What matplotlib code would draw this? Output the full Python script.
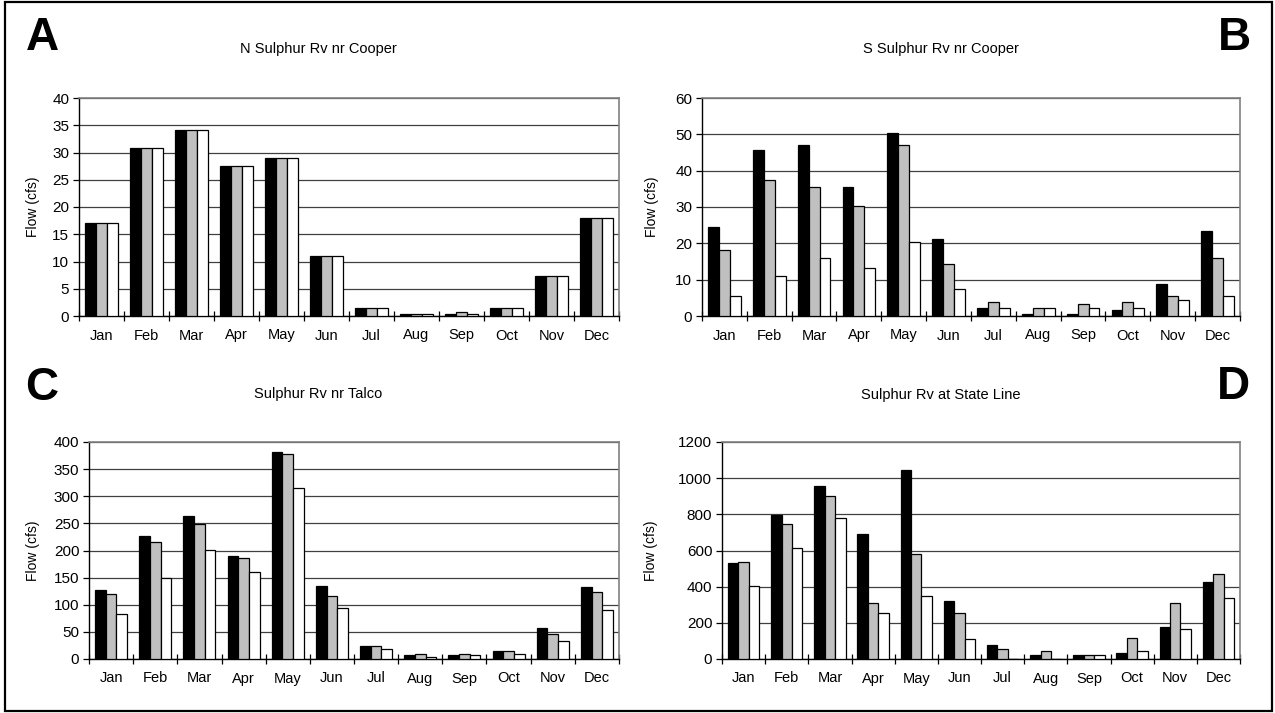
import matplotlib
matplotlib.use("Agg")
import matplotlib.pyplot as plt
from matplotlib.patches import Rectangle
import numpy as np

plt.rcParams['font.family'] = ['Liberation Sans', 'DejaVu Sans']

months = ["Jan", "Feb", "Mar", "Apr", "May", "Jun",
          "Jul", "Aug", "Sep", "Oct", "Nov", "Dec"]

# N Sulphur Rv nr Cooper
n_cooper_1 = [17.0, 30.9, 34.2, 27.6, 29.0, 11.0, 1.5, 0.4, 0.4, 1.5, 7.4, 18.0]
n_cooper_2 = [17.0, 30.9, 34.2, 27.6, 29.0, 11.0, 1.5, 0.4, 0.7, 1.5, 7.4, 18.0]
n_cooper_3 = [17.0, 30.9, 34.2, 27.6, 29.0, 11.0, 1.5, 0.4, 0.4, 1.5, 7.4, 18.0]

# S Sulphur Rv nr Cooper
s_cooper_1 = [24.4, 45.8, 47.0, 35.4, 50.3, 21.1, 2.3, 0.6, 0.6, 1.7, 8.9, 23.3]
s_cooper_2 = [18.3, 37.5, 35.4, 30.3, 47.0, 14.4, 3.9, 2.3, 3.3, 3.8, 5.6, 16.1]
s_cooper_3 = [5.6, 11.1, 16.1, 13.3, 20.5, 7.3, 2.3, 2.3, 2.3, 2.3, 4.5, 5.6]

# Sulphur Rv nr Talco
talco_1 = [128, 227, 264, 190, 382, 135, 24.5, 6.7, 6.7, 14.7, 58, 132]
talco_2 = [120, 216, 249, 186, 377, 117, 24.5, 9.8, 9.8, 14.7, 47, 124]
talco_3 = [83, 150, 201, 160, 315, 94, 17.8, 3.0, 6.7, 9.8, 32.5, 91]

# Sulphur Rv at State Line
state_1 = [529, 794, 957, 693, 1046, 318, 75, 20, 20, 31, 176, 428]
state_2 = [537, 746, 900, 307, 583, 252, 53, 42, 20, 118, 307, 470]
state_3 = [406, 616, 779, 252, 351, 108, 0, 0, 20, 42, 164, 338]

W, H = 1275, 713
fig = plt.figure(figsize=(W / 100, H / 100), dpi=100)


def px_axes(left, right, top, bottom):
    return fig.add_axes([left / W, 1 - bottom / H, (right - left) / W, (bottom - top) / H])


panels = [
    dict(rect=(79, 619, 98, 316), series=(n_cooper_1, n_cooper_2, n_cooper_3),
         ymax=40, ystep=5, title="N Sulphur Rv nr Cooper", tpos=(318, 49),
         letter="A", lpos=(42, 38), ylab_x=33),
    dict(rect=(702, 1240, 98, 316), series=(s_cooper_1, s_cooper_2, s_cooper_3),
         ymax=60, ystep=10, title="S Sulphur Rv nr Cooper", tpos=(941, 49),
         letter="B", lpos=(1234, 38), ylab_x=652),
    dict(rect=(89, 619, 442, 659), series=(talco_1, talco_2, talco_3),
         ymax=400, ystep=50, title="Sulphur Rv nr Talco", tpos=(318, 394),
         letter="C", lpos=(42, 388), ylab_x=33),
    dict(rect=(722, 1240, 442, 659), series=(state_1, state_2, state_3),
         ymax=1200, ystep=200, title="Sulphur Rv at State Line", tpos=(941, 395),
         letter="D", lpos=(1233, 387), ylab_x=651),
]

bar_colors = ["#000000", "#c0c0c0", "#ffffff"]
bw = 0.242
x = np.arange(len(months))

for p in panels:
    ax = px_axes(*p["rect"])
    for i, (vals, col) in enumerate(zip(p["series"], bar_colors)):
        ax.bar(x + (i - 1) * bw, vals, width=bw, color=col,
               edgecolor="black", linewidth=0.9, zorder=3)
    ax.set_xlim(-0.5, len(months) - 0.5)
    ax.set_ylim(0, p["ymax"])
    ax.set_yticks(np.arange(0, p["ymax"] + p["ystep"] / 2, p["ystep"]))
    ax.yaxis.grid(True, color="#404040", linewidth=0.9, zorder=0)
    ax.set_axisbelow(True)

    # category boundaries carry the tick marks; month names sit between them
    ax.set_xticks(np.arange(-0.5, len(months), 1.0))
    ax.set_xticklabels([])
    ax.set_xticks(x, minor=True)
    ax.set_xticklabels(months, minor=True)
    ax.tick_params(axis="x", which="major", direction="inout", length=7,
                   width=0.9, color="black")
    ax.tick_params(axis="x", which="minor", length=0, pad=9, labelsize=10.5)
    ax.tick_params(axis="y", direction="out", length=4, width=0.9,
                   color="black", labelsize=11, pad=3)

    for side in ("top", "right"):
        ax.spines[side].set_color("#808080")
        ax.spines[side].set_linewidth(1.2)
    for side in ("left", "bottom"):
        ax.spines[side].set_color("black")
        ax.spines[side].set_linewidth(1.0)

    fig.text(p["ylab_x"] / W, 1 - (p["rect"][2] + p["rect"][3]) / 2 / H,
             "Flow (cfs)", rotation=90, ha="center", va="center", fontsize=10)
    fig.text(p["tpos"][0] / W, 1 - p["tpos"][1] / H, p["title"],
             ha="center", va="center", fontsize=10.5)
    fig.text(p["lpos"][0] / W, 1 - p["lpos"][1] / H, p["letter"],
             ha="center", va="center", fontsize=33, fontweight="bold")

# outer frame around the whole figure
fig.patches.append(Rectangle((5 / W, 2 / H), 1267 / W, 709 / H,
                             transform=fig.transFigure, fill=False,
                             edgecolor="black", linewidth=1.6))

fig.savefig("out.png", dpi=100)
